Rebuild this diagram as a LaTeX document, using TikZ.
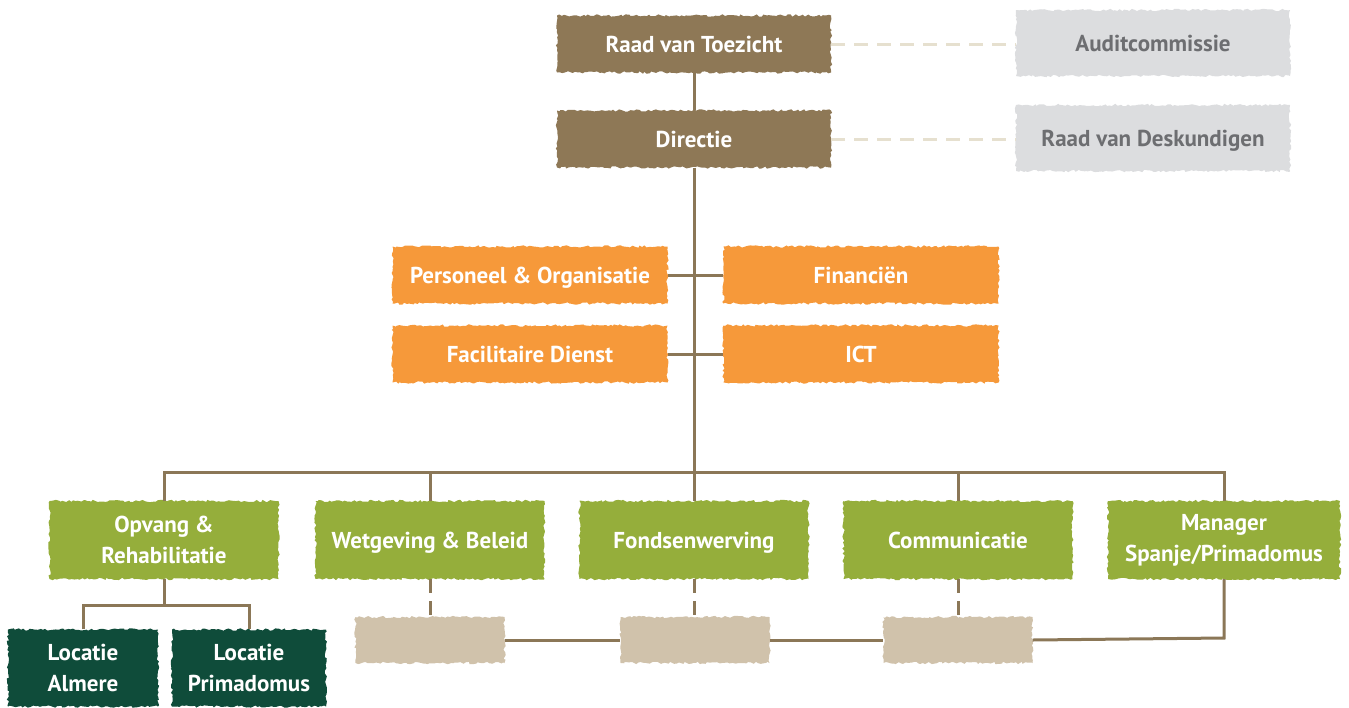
\documentclass[tikz,border=0pt]{standalone}
\usepackage{fontspec}
\setmainfont{PT Sans}
\usetikzlibrary{decorations.pathmorphing}
\definecolor{cbrown}{HTML}{8E7856}
\definecolor{cgrey}{HTML}{DCDDDF}
\definecolor{cgreytext}{HTML}{6D6E71}
\definecolor{corange}{HTML}{F6993A}
\definecolor{cgreen}{HTML}{95AE3B}
\definecolor{cdark}{HTML}{0F4C3A}
\definecolor{cbeige}{HTML}{D0C2AB}
\definecolor{cline}{HTML}{8B7757}
\definecolor{cdash}{HTML}{E6E0CF}
\pgfmathsetseed{7}
\tikzset{
  box/.style={inner sep=0pt, align=center, font=\fontsize{23}{31}\selectfont\bfseries,
    text=white, decorate, decoration={random steps, segment length=2.5pt, amplitude=1.2pt}},
  oneline/.style={text height=19pt, text depth=3pt},
  topbox/.style={box, oneline, fill=cbrown, minimum width=274, minimum height=57},
  sidebox/.style={box, oneline, fill=cgrey, text=cgreytext, minimum width=274, minimum height=66},
  staffbox/.style={box, oneline, fill=corange, minimum width=275, minimum height=57},
  deptbox/.style={box, fill=cgreen, minimum width=229, minimum height=78},
  locbox/.style={box, fill=cdark, minimum width=150, minimum height=77},
  blankbox/.style={box, fill=cbeige, minimum width=149, minimum height=46},
  conn/.style={draw=cline, line width=3pt},
  dconn/.style={draw=cline, line width=3pt, dash pattern=on 14pt off 8pt},
  sconn/.style={draw=cdash, line width=3pt, dash pattern=on 14pt off 9pt},
}
\begin{document}
\begin{tikzpicture}[x=1pt,y=-1pt]
\useasboundingbox (0,0) rectangle (1349,707);
\coordinate (hub) at (694,472);
\coordinate (bend) at (1224,638);
\coordinate (lbar) at (164,605);
% nodes
\node[topbox] (rvt) at (694,44) {Raad van Toezicht};
\node[topbox] (dir) at (694,139) {Directie};
\node[sidebox] (aud) at (1153,43) {Auditcommissie};
\node[sidebox] (rvd) at (1153,138) {Raad van Deskundigen};
\node[staffbox] (po) at (530,275) {Personeel \& Organisatie};
\node[staffbox] (fin) at (861,275) {Financiën};
\node[staffbox] (fd) at (530,354) {Facilitaire Dienst};
\node[staffbox] (ict) at (861,354) {ICT};
\node[deptbox] (opv) at (164,540) {Opvang \&\\Rehabilitatie};
\node[deptbox, oneline] (wet) at (430,540) {Wetgeving \& Beleid};
\node[deptbox, oneline] (fon) at (694,540) {Fondsenwerving};
\node[deptbox, oneline] (com) at (958,540) {Communicatie};
\node[deptbox, minimum width=232] (man) at (1224,540) {Manager\\Spanje/Primadomus};
\node[locbox] (alm) at (83,668) {Locatie\\Almere};
\node[locbox, minimum width=154] (pri) at (249,668) {Locatie\\Primadomus};
\node[blankbox] (b1) at (430,640) {};
\node[blankbox] (b2) at (695,640) {};
\node[blankbox] (b3) at (958,640) {};
% connectors
\draw[conn] (rvt.south) -- (dir.north);
\draw[conn] (dir.south) -- (hub);
\draw[conn] (po.east) -- (fin.west);
\draw[conn] (fd.east) -- (ict.west);
\draw[conn] (opv.north) |- (hub) -| (man.north);
\draw[conn] (wet.north) -- (wet.north |- hub);
\draw[conn] (hub) -- (fon.north);
\draw[conn] (com.north) -- (com.north |- hub);
\draw[conn] (opv.south) -- (lbar);
\draw[conn] (alm.north) |- (lbar) -| (pri.north);
\draw[sconn] (rvt.east) -- (aud.west |- rvt.east);
\draw[sconn] (dir.east) -- (rvd.west |- dir.east);
\draw[dconn] (wet.south) -- (b1.north);
\draw[dconn] (fon.south) -- (fon.south |- b2.north);
\draw[dconn] (com.south) -- (b3.north);
\draw[conn] (b1.east) -- (b2.west);
\draw[conn] (b2.east) -- (b3.west);
\draw[conn] (b3.east) -- (bend) -- (man.south);
\end{tikzpicture}
\end{document}
